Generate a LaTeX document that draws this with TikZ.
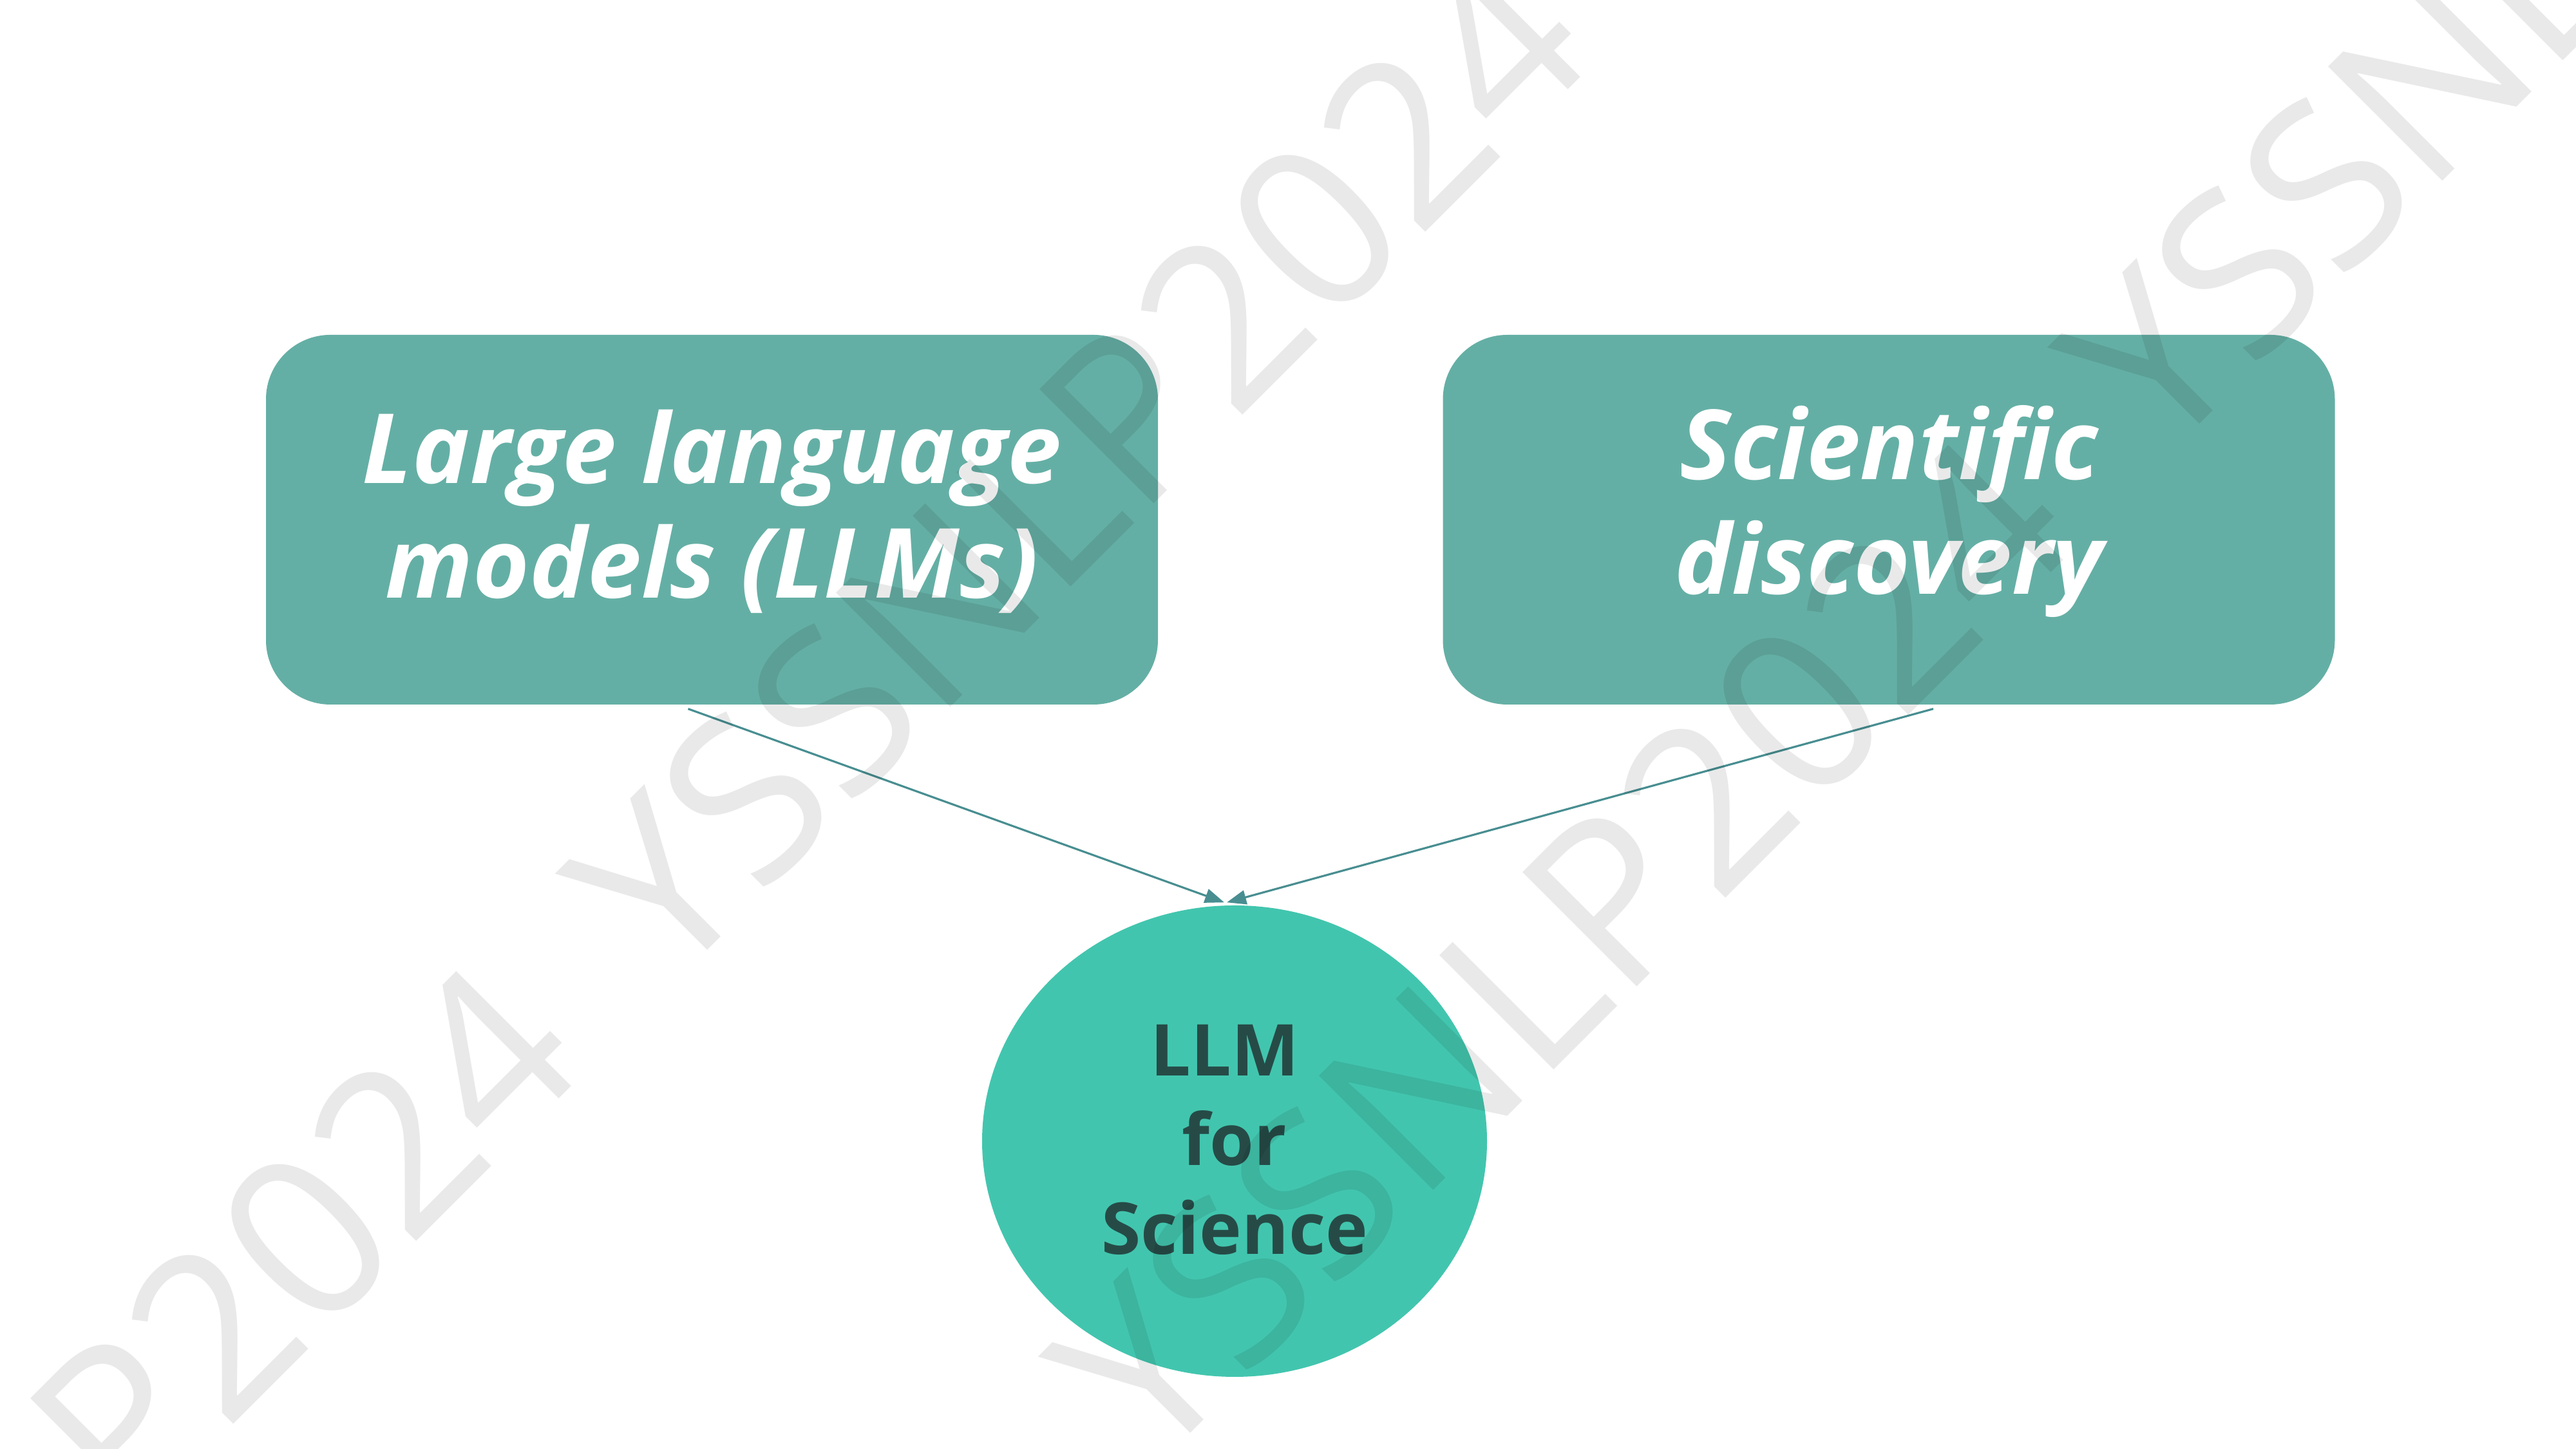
\documentclass[tikz,border=0pt]{standalone}
\usepackage{fontspec}
\setmainfont{Open Sans}
\usetikzlibrary{arrows.meta,shapes.geometric}

\definecolor{boxteal}{RGB}{100,175,165}
\definecolor{blobteal}{RGB}{66,197,174}
\definecolor{darkteal}{RGB}{38,75,71}
\definecolor{arrowteal}{RGB}{72,142,145}

\tikzset{
  topic/.style={rectangle, rounded corners=1cm, fill=boxteal, minimum width=13.85cm, minimum height=5.74cm, inner sep=0pt},
  topictext/.style={text=white, font=\fontsize{42.8pt}{50.7pt}\selectfont\bfseries\itshape, align=center},
  blob/.style={ellipse, fill=blobteal, minimum width=7.84cm, minimum height=7.32cm, inner sep=0pt},
  blobtext/.style={text=darkteal, font=\fontsize{31.6pt}{39.5pt}\selectfont\bfseries, align=center},
  feed/.style={draw=arrowteal, line width=0.9pt, -{Triangle[length=0.3cm,width=0.22cm]}},
  stamp/.style={font=\fontsize{100pt}{120pt}\selectfont, text=black, opacity=0.085, rotate=45, anchor=base west, inner sep=0pt}
}

\begin{document}
\begin{tikzpicture}
\fill[white] (0,0) rectangle (40,22.5);
\useasboundingbox (0,0) rectangle (40,22.5);

% the two topic boxes
\node[topic] (llm) at (11.055,14.43) {};
\node[topic] (disc) at (29.33,14.43) {};
\node[topictext] (llm text) at (11.055,14.56) {Large language\\models (LLMs)};
\node[topictext] (disc text) at (29.33,14.56) {Scientific\\discovery};

% where they meet
\node[blob] (sci) at (19.17,4.78) {};
\node[blobtext] (sci text) at (19.17,4.80) {LLM\hspace*{0.3cm}\\for\\Science};

\draw[feed] ([xshift=-0.37cm,yshift=-0.06cm]llm.south) -- ([xshift=-0.16cm,yshift=0.04cm]sci.north);
\draw[feed] ([xshift=0.69cm,yshift=-0.06cm]disc.south) -- ([xshift=-0.12cm,yshift=0.04cm]sci.north);

% watermark
\begin{scope}
\clip (0,0) rectangle (40,22.5);
\foreach \row in {0,1}
  \foreach \k in {-1,0,1}
    \node[stamp] (mark-\row-\k) at ({17.89+15.67*\k-7.5*\row},{-0.35+15.67*\k+7.5*\row}) {YSSNLP2024};
\end{scope}
\end{tikzpicture}
\end{document}
